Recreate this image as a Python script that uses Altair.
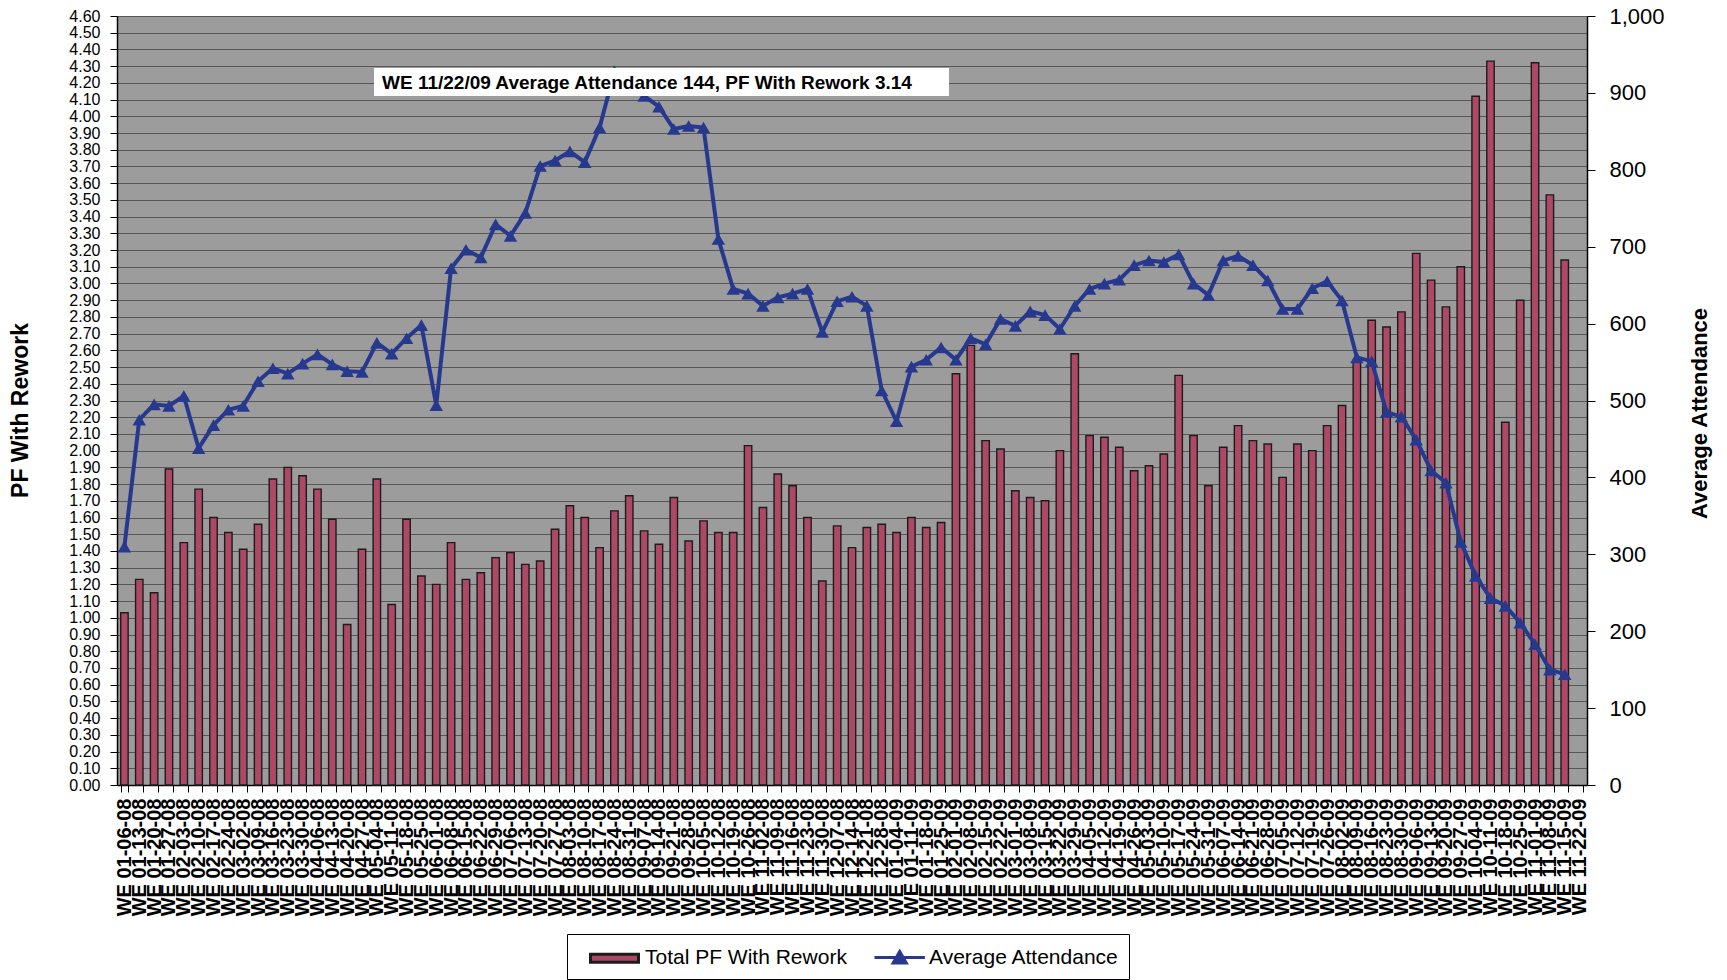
import altair as alt
import pandas as pd

# ---------------- data ----------------
weeks = [d.strftime("WE %m-%d-%y") for d in pd.date_range("2008-01-06", "2009-11-22", freq="7D")]

pf_with_rework = [
    1.03, 1.23, 1.15, 1.89, 1.45, 1.77, 1.60, 1.51, 1.41, 1.56,
    1.83, 1.90, 1.85, 1.77, 1.59, 0.96, 1.41, 1.83, 1.08, 1.59,
    1.25, 1.20, 1.45, 1.23, 1.27, 1.36, 1.39, 1.32, 1.34, 1.53,
    1.67, 1.60, 1.42, 1.64, 1.73, 1.52, 1.44, 1.72, 1.46, 1.58,
    1.51, 1.51, 2.03, 1.66, 1.86, 1.79, 1.60, 1.22, 1.55, 1.42,
    1.54, 1.56, 1.51, 1.60, 1.54, 1.57, 2.46, 2.63, 2.06, 2.01,
    1.76, 1.72, 1.70, 2.00, 2.58, 2.09, 2.08, 2.02, 1.88, 1.91,
    1.98, 2.45, 2.09, 1.79, 2.02, 2.15, 2.06, 2.04, 1.84, 2.04,
    2.00, 2.15, 2.27, 2.54, 2.78, 2.74, 2.83, 3.18, 3.02, 2.86,
    3.10, 4.12, 4.33, 2.17, 2.90, 4.32, 3.53, 3.14,
]

avg_attendance = [
    310, 475, 495, 493, 506, 438, 468, 488, 493, 525,
    542, 535, 548, 560, 547, 538, 537, 575, 561, 581,
    598, 494, 672, 696, 686, 729, 714, 744, 805, 812,
    824, 810, 855, 928, 918, 896, 882, 853, 857, 855,
    710, 645, 639, 623, 634, 639, 645, 589, 629, 635,
    623, 513, 473, 544, 553, 569, 553, 581, 573, 606,
    597, 616, 611, 593, 623, 645, 652, 657, 676, 682,
    680, 690, 652, 637, 682, 688, 676, 656, 619, 619,
    646, 655, 630, 556, 551, 485, 479, 449, 409, 393,
    316, 272, 243, 233, 211, 183, 150, 144,
]

pf_ticks = [round(i * 0.1, 2) for i in range(47)]
att_ticks = list(range(0, 1001, 100))
legend_items = ["Total PF With Rework", "Average Attendance"]
note = "WE 11/22/09 Average Attendance 144, PF With Rework 3.14"

df = pd.DataFrame({
    "week": weeks[: len(pf_with_rework)],
    "pf": pf_with_rework,
    "att": avg_attendance,
})

# ---------------- style ----------------
FONT = "Liberation Sans"
BAR = "#ad4866"
NAVY = "#27398f"
# legend symbols (unit = 12 px with symbolSize 576)
RECT_PATH = "M0,-0.33H4V0.33H0Z"
LINE_PATH = "M0,0H4.2M1.55,0.45L2.1,-0.5L2.65,0.45Z"

x_enc = alt.X(
    "week:N",
    sort=weeks,
    scale=alt.Scale(domain=weeks, paddingInner=0.5, paddingOuter=0.25),
    axis=alt.Axis(
        title=None, labelAngle=-90, labelFontSize=20, labelFontWeight="bold",
        labelFont=FONT, labelColor="black", labelOverlap=False, labelPadding=6,
        tickBand="extent", tickSize=7, tickColor="black", tickWidth=1,
        domainColor="black", domainWidth=1.5,
    ),
)

y_pf = alt.Y(
    "pf:Q",
    scale=alt.Scale(domain=[0, 4.6], nice=False, zero=True),
    axis=alt.Axis(
        values=pf_ticks, format=".2f", title="PF With Rework", labelOverlap=False,
        labelFont=FONT, labelFontSize=16, labelColor="black", labelPadding=10,
        tickSize=7, tickColor="black", domainColor="black", domainWidth=1.5,
        grid=True, gridColor="#111111", gridOpacity=0.5, gridWidth=1,
        titleFont=FONT, titleFontSize=23, titleFontWeight="bold", titleColor="black",
        titleX=-97, titleY=394, titleAngle=270, titleAlign="center", titleBaseline="middle",
    ),
)

y_att = alt.Y(
    "att:Q",
    scale=alt.Scale(domain=[0, 1000], nice=False, zero=True),
    axis=alt.Axis(
        orient="right", values=att_ticks, format=",d", title="Average Attendance",
        labelFont=FONT, labelFontSize=22, labelColor="black", labelPadding=14,
        tickSize=8, tickColor="black", domainColor="black", domainWidth=1.5, grid=False,
        titleFont=FONT, titleFontSize=22, titleFontWeight="bold", titleColor="black",
        titleX=112, titleY=397, titleAngle=270, titleAlign="center", titleBaseline="middle",
    ),
)

base = alt.Chart(df)

bars = base.mark_bar(fill=BAR, stroke="#1c1c1c", strokeWidth=1.4).encode(x=x_enc, y=y_pf)

line = base.mark_line(color=NAVY, strokeWidth=4).encode(x=x_enc, y=y_att)
pts = base.mark_point(shape="triangle-up", filled=True, size=180, color=NAVY, opacity=1).encode(
    x=x_enc, y=y_att
)
att_layer = alt.layer(line, pts)

note_df = pd.DataFrame({"t": [note]})
box = alt.Chart(note_df).mark_rect(fill="white").encode(
    x=alt.value(257), x2=alt.value(832), y=alt.value(52), y2=alt.value(80)
)
txt = alt.Chart(note_df).mark_text(
    align="left", baseline="middle", fontSize=19, fontWeight="bold", font=FONT, color="black"
).encode(x=alt.value(265), y=alt.value(67), text="t:N")

LEG = alt.Legend(
    title=None, orient="none", legendX=450, legendY=918, direction="horizontal",
    strokeColor="black", fillColor="white", padding=10,
    labelFont=FONT, labelFontSize=21, labelColor="black", labelOffset=41, labelLimit=0,
    symbolSize=576, symbolStrokeWidth=3, columnPadding=14, symbolOpacity=1,
)
leg_df = pd.DataFrame({"series": legend_items})
legend_layer = alt.Chart(leg_df).transform_filter("false").mark_point(filled=True, opacity=1).encode(
    x=alt.value(0),
    y=alt.value(0),
    fill=alt.Fill("series:N", scale=alt.Scale(domain=legend_items, range=[BAR, NAVY]), legend=LEG),
    stroke=alt.Stroke("series:N", scale=alt.Scale(domain=legend_items, range=["#1c1c1c", NAVY]), legend=LEG),
    shape=alt.Shape("series:N", scale=alt.Scale(domain=legend_items, range=[RECT_PATH, LINE_PATH]), legend=LEG),
)

chart = (
    alt.layer(bars, att_layer, box, txt, legend_layer)
    .resolve_scale(y="independent")
    .properties(
        width=1470,
        height=769,
        padding={"left": 117, "top": 16, "right": 140, "bottom": 195},
        autosize=alt.AutoSizeParams(type="none"),
        background="white",
    )
    .configure_view(fill="#9c9c9c", strokeWidth=0)
)

chart.save("out.html", embed_options={"renderer": "svg", "actions": False})
